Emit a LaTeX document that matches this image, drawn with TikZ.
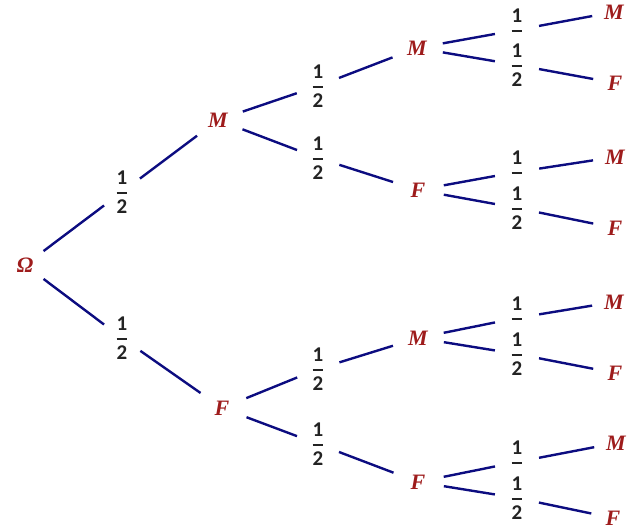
\documentclass[tikz,border=0pt]{standalone}
\usepackage{amsmath}
\usepackage{fontspec}
\setmainfont{Carlito}
\newfontfamily\lettfont{Liberation Serif}
\definecolor{edgec}{RGB}{12,12,128}
\definecolor{lettc}{RGB}{158,28,28}
\definecolor{fracc}{RGB}{35,35,35}
\newcommand{\half}{$\genfrac{}{}{1.8pt}{0}{\mbox{1}}{\mbox{2}}$}
\newcommand{\halftop}{$\genfrac{}{}{1.8pt}{0}{\mbox{1}}{\phantom{\mbox{2}}}$}
\tikzset{
  ev/.style={circle, inner sep=0pt, minimum size=52pt, text=lettc,
    font=\lettfont\bfseries\itshape\fontsize{22}{26}\selectfont},
  leaf/.style={ev, minimum size=44pt},
  root/.style={ev, minimum size=46pt},
  pr/.style={circle, inner sep=0pt, minimum size=42pt, text=fracc,
    font=\bfseries\fontsize{21}{24}\selectfont},
  br/.style={draw=edgec, line width=2.4pt},
}
\begin{document}
\begin{tikzpicture}[x=1pt,y=-1pt]
\useasboundingbox (0,0) rectangle (639,530);
% nodes
\node[root] (O) at (25,265) {Ω};
\node[ev] (M1) at (218,120) {M};
\node[ev] (F1) at (222,408) {F};
\node[pr] (pO1) at (122,192) {\half};
\node[pr] (pO2) at (122,338) {\half};
\node[pr] (pM1a) at (318,86) {\half};
\node[pr] (pM1b) at (318,158) {\half};
\node[pr] (pF1a) at (318,369) {\half};
\node[pr] (pF1b) at (318,444) {\half};
\node[ev] (MM) at (417,48) {M};
\node[ev] (MF) at (418,190) {F};
\node[ev] (FM) at (418,338) {M};
\node[ev] (FF) at (418,482) {F};
\node[pr] (pMMa) at (517,30) {\halftop};
\node[pr] (pMMb) at (517,65) {\half};
\node[pr] (pMFa) at (517,172) {\halftop};
\node[pr] (pMFb) at (517,208) {\half};
\node[pr] (pFMa) at (517,318) {\halftop};
\node[pr] (pFMb) at (517,354) {\half};
\node[pr] (pFFa) at (517,462) {\halftop};
\node[pr] (pFFb) at (517,498) {\half};
\node[leaf] (l1) at (614,12) {M};
\node[leaf] (l2) at (615,83) {F};
\node[leaf] (l3) at (615,157) {M};
\node[leaf] (l4) at (615,228) {F};
\node[leaf] (l5) at (614,302) {M};
\node[leaf] (l6) at (615,373) {F};
\node[leaf] (l7) at (616,443) {M};
\node[leaf] (l8) at (613,518) {F};
% branches
\draw[br] (O) -- (pO1) -- (M1);
\draw[br] (O) -- (pO2) -- (F1);
\draw[br] (M1) -- (pM1a) -- (MM);
\draw[br] (M1) -- (pM1b) -- (MF);
\draw[br] (F1) -- (pF1a) -- (FM);
\draw[br] (F1) -- (pF1b) -- (FF);
\draw[br] (MM) -- (pMMa) -- (l1);
\draw[br] (MM) -- (pMMb) -- (l2);
\draw[br] (MF) -- (pMFa) -- (l3);
\draw[br] (MF) -- (pMFb) -- (l4);
\draw[br] (FM) -- (pFMa) -- (l5);
\draw[br] (FM) -- (pFMb) -- (l6);
\draw[br] (FF) -- (pFFa) -- (l7);
\draw[br] (FF) -- (pFFb) -- (l8);
\end{tikzpicture}
\end{document}
